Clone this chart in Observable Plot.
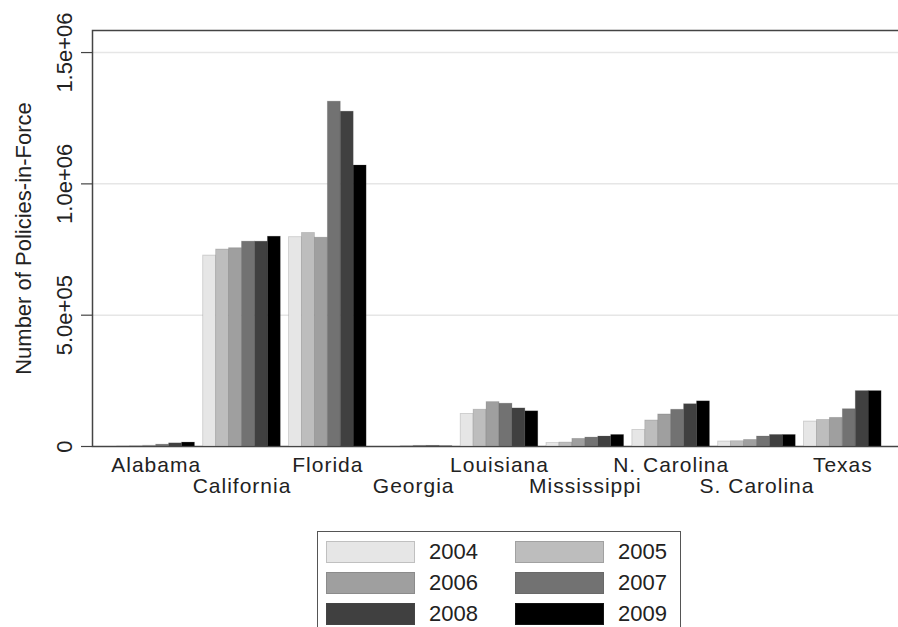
<!DOCTYPE html>
<html>
<head>
<meta charset="utf-8">
<script src="https://cdn.jsdelivr.net/npm/d3@7"></script>
<script src="https://cdn.jsdelivr.net/npm/@observablehq/plot@0.6"></script>
<style>
  html, body { margin: 0; padding: 0; background: white; }
  #wrap { position: relative; width: 898px; height: 627px; overflow: hidden; background: white;
          font-family: "Liberation Sans", Arial, sans-serif; color: #222; }
  #back, #front { position: absolute; left: 0; top: 0; }
  #legend { position: absolute; left: 317px; top: 531px; width: 364px; height: 120px;
            border: 1.5px solid #555; box-sizing: border-box; }
  .item { position: absolute; display: flex; align-items: center; height: 23px; }
  .sw { width: 89px; height: 22px; box-sizing: border-box; border: 1px solid rgba(80,80,80,0.25); }
  .lb { margin-left: 14px; font-size: 22px; line-height: 22px; }
</style>
</head>
<body>
<div id="wrap"><div id="back"></div><div id="front"></div><div id="legend"></div></div>
<script>
// ---- data ----
const states = ["Alabama", "California", "Florida", "Georgia", "Louisiana",
                "Mississippi", "N. Carolina", "S. Carolina", "Texas"];
const years = ["2004", "2005", "2006", "2007", "2008", "2009"];
const v2004 = [500, 727000, 797000, 0, 124000, 13000, 63000, 19000, 95000];
const v2005 = [1500, 750000, 813000, 0, 140000, 15000, 99000, 20000, 101000];
const v2006 = [3000, 755000, 795000, 1000, 169000, 29000, 122000, 25000, 109000];
const v2007 = [7000, 780000, 1313000, 2500, 163000, 34000, 140000, 38000, 142000];
const v2008 = [12000, 780000, 1275000, 2500, 145000, 38000, 161000, 44000, 211000];
const v2009 = [15000, 799000, 1070000, 1000, 134000, 44000, 172000, 44000, 211000];
const yearColors = ["#e6e6e6", "#bdbdbd", "#9f9f9f", "#727272", "#404040", "#000000"];
const yTicks = [0, 500000, 1000000, 1500000];
const yTickLabels = ["0", "5.0e+05", "1.0e+06", "1.5e+06"];
const gridTicks = [500000, 1000000, 1500000];
const yTitle = "Number of Policies-in-Force";

const series = [v2004, v2005, v2006, v2007, v2008, v2009];
const rows = states.flatMap((s, i) => years.map((y, j) => ({state: s, year: y, value: series[j][i]})));

const common = {
  width: 906,
  height: 520,
  marginLeft: 92,
  marginRight: 0,
  marginTop: 30,
  marginBottom: 74,
  y: {domain: [0, 1584000], axis: null}
};
const font = "'Liberation Sans', Arial, sans-serif";

// background layer: frame, grid, y axis
const back = Plot.plot({
  ...common,
  style: {maxWidth: "none", fontFamily: font, background: "white", overflow: "visible"},
  marks: [
    Plot.ruleY(gridTicks, {stroke: "#e6e6e6", strokeWidth: 1.5}),
    Plot.frame({stroke: "#444", strokeWidth: 1.5}),
    Plot.axisY({ticks: yTicks, tickSize: 11, tickFormat: () => "", stroke: "#444", strokeWidth: 1.2}),
    Plot.text(yTicks, {y: d => d, text: (d, i) => yTickLabels[i], frameAnchor: "left", textAnchor: "middle",
      dx: -28, rotate: -90, fontSize: 22, fill: "#222"}),
    Plot.text([yTitle], {text: d => d, frameAnchor: "left", textAnchor: "middle", dx: -69, rotate: -90,
      fontSize: 22, fill: "#222"})
  ]
});
document.getElementById("back").appendChild(back);

// front layer: bars per state (faceted), state labels
const front = Plot.plot({
  ...common,
  style: {maxWidth: "none", fontFamily: font, background: "transparent", overflow: "visible"},
  fx: {domain: states, paddingInner: 0.096, paddingOuter: 0.29, round: false, axis: null, label: null},
  x: {domain: years, padding: 0, round: false, axis: null},
  color: {domain: years, range: yearColors},
  marks: [
    Plot.barY(rows, {fx: "state", x: "year", y: "value", fill: "year", stroke: "#555", strokeOpacity: 0.25, strokeWidth: 0.8}),
    Plot.text(states.filter((d, i) => i % 2 === 0), {fx: d => d, text: d => d, frameAnchor: "bottom",
      lineAnchor: "top", dy: 11, fontSize: 21, fill: "#222"}),
    Plot.text(states.filter((d, i) => i % 2 === 1), {fx: d => d, text: d => d, frameAnchor: "bottom",
      lineAnchor: "top", dy: 32, fontSize: 21, fill: "#222"})
  ]
});
front.querySelectorAll("text").forEach(t => { t.style.letterSpacing = "1px"; });
document.getElementById("front").appendChild(front);

// legend (two columns, three rows)
const legend = document.getElementById("legend");
years.forEach((y, i) => {
  const col = i % 2, row = Math.floor(i / 2);
  const it = document.createElement("div");
  it.className = "item";
  it.style.left = (8 + col * 189) + "px";
  it.style.top = (8 + row * 31) + "px";
  it.innerHTML = `<div class="sw" style="background:${yearColors[i]}"></div><div class="lb">${y}</div>`;
  legend.appendChild(it);
});
</script>
</body>
</html>
